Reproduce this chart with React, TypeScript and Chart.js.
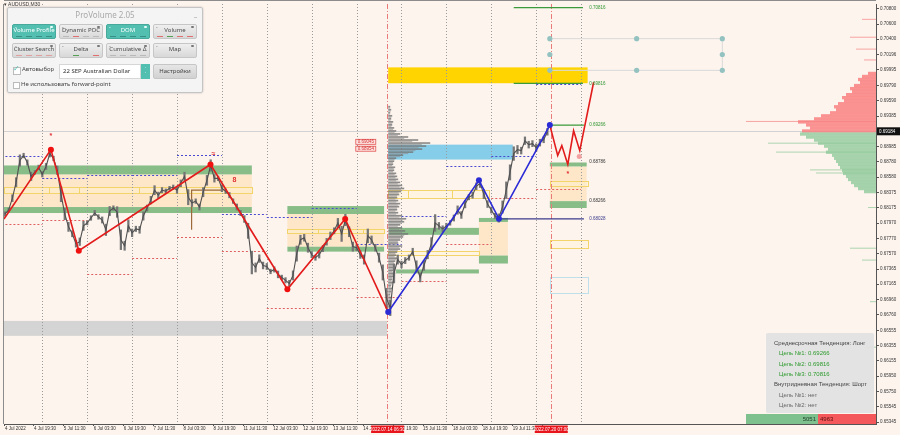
import React, { useEffect, useRef } from 'react';
import { Chart, registerables } from 'chart.js';

Chart.register(...registerables);

// ---------------- data ----------------
// closes sampled every 2 trading hours, trading hours counted from 4 Jul 00:00 (weekend skipped)
const PRICE_START_HOUR = 4;
const PRICE_STEP_HOURS = 2;
const PRICES = [
  0.68092, 0.68144, 0.68301, 0.68511, 0.68798, 0.68864, 0.68772, 0.68589, 0.68641, 0.68707,
  0.68616, 0.68720, 0.68890, 0.68825, 0.68668, 0.68354, 0.68092, 0.67922, 0.67831, 0.67700,
  0.67726, 0.67935, 0.67974, 0.68039, 0.68105, 0.68053, 0.68013, 0.67883, 0.68131, 0.68170,
  0.68118, 0.67752, 0.67673, 0.67935, 0.67843, 0.67896, 0.67883, 0.68066, 0.68170, 0.68275,
  0.68406, 0.68341, 0.68406, 0.68393, 0.68432, 0.68445, 0.68406, 0.68497, 0.68589, 0.68314,
  0.68236, 0.68262, 0.68184, 0.68380, 0.68537, 0.68733, 0.68563, 0.68563, 0.68432, 0.68393,
  0.68341, 0.68262, 0.68184, 0.68105, 0.68026, 0.67870, 0.67451, 0.67386, 0.67503, 0.67412,
  0.67399, 0.67333, 0.67360, 0.67294, 0.67255, 0.67216, 0.67176, 0.67281, 0.67569, 0.67752,
  0.67778, 0.67647, 0.67556, 0.67516, 0.67556, 0.67634, 0.67726, 0.67804, 0.67870, 0.67974,
  0.67830, 0.68013, 0.67857, 0.67661, 0.67647, 0.67556, 0.67490, 0.67804, 0.67752, 0.67647,
  0.67516, 0.67320, 0.66980, 0.66850, 0.67307, 0.67490, 0.67425, 0.67477, 0.67516, 0.67595,
  0.67399, 0.67255, 0.67412, 0.67556, 0.67700, 0.67974, 0.67935, 0.67896, 0.67935, 0.67974,
  0.68039, 0.68144, 0.68079, 0.68223, 0.68314, 0.68341, 0.68458, 0.68497, 0.68354, 0.68223,
  0.68144, 0.68066, 0.68039, 0.68184, 0.68406, 0.68641, 0.68890, 0.68942, 0.68929, 0.69060,
  0.69008, 0.69021, 0.68968, 0.69034, 0.69073, 0.69178,
];
// high-low range of each 2-hour sample, in 1e-5 price units
const PRICE_RANGES = [
  60, 50, 90, 120, 150, 60, 70, 110, 50, 60,
  70, 80, 90, 60, 110, 200, 150, 120, 80, 90,
  100, 120, 50, 60, 70, 60, 80, 150, 120, 60,
  140, 260, 120, 160, 100, 70, 90, 110, 80, 100,
  120, 80, 70, 60, 50, 60, 80, 90, 110, 200,
  90, 60, 80, 120, 130, 150, 100, 60, 90, 60,
  70, 60, 80, 70, 90, 200, 300, 120, 100, 90,
  80, 60, 70, 90, 60, 70, 80, 120, 200, 120,
  90, 120, 80, 70, 90, 80, 90, 100, 80, 120,
  200, 150, 130, 120, 80, 100, 120, 180, 100, 90,
  120, 200, 260, 200, 250, 120, 90, 80, 70, 90,
  150, 120, 130, 110, 160, 220, 90, 80, 70, 60,
  80, 110, 90, 100, 70, 80, 90, 110, 120, 90,
  80, 70, 110, 160, 220, 200, 180, 110, 90, 100,
  90, 80, 100, 90, 80, 90,
];

const RED_ZIGZAG_HOURS = [3.5, 28.6, 43.5, 113.9, 155.0, 185.9, 208.9];
const RED_ZIGZAG_PRICES = [0.68026, 0.68942, 0.67608, 0.68746, 0.67098, 0.68026, 0.66797];
const BLUE_ZIGZAG_HOURS = [208.9, 257.4, 268.1, 295.3];
const BLUE_ZIGZAG_PRICES = [0.66797, 0.68537, 0.68028, 0.69266];
const FORECAST_HOURS = [295.3, 299.5, 301.7, 304.9, 308.0, 311.3, 318.7];
const FORECAST_PRICES = [0.69266, 0.68864, 0.68995, 0.68746, 0.69191, 0.68929, 0.69832];

const TIME_TICK_HOURS = [4, 19.5, 35.5, 51.5, 67.5, 83.5, 99.5, 115.5, 131.5, 147.5, 163.5, 179.5, 195.5, 211.5, 227.5, 243.5, 259.5, 275.5, 291.5];
const TIME_TICK_LABELS = [
  '4 Jul 2022', '4 Jul 19:30', '5 Jul 11:30', '6 Jul 03:30', '6 Jul 19:30', '7 Jul 11:30', '8 Jul 03:30',
  '8 Jul 19:30', '11 Jul 11:30', '12 Jul 03:30', '12 Jul 19:30', '13 Jul 11:30', '14 Jul 03:30',
  '14 Jul 19:30', '15 Jul 11:30', '18 Jul 03:30', '18 Jul 19:30', '19 Jul 11:30', '20 Jul 03:30',
];
const PRICE_TICKS = [
  0.70800, 0.70600, 0.70400, 0.70196, 0.69995, 0.69790, 0.69590, 0.69385, 0.68985, 0.68780,
  0.68580, 0.68375, 0.68175, 0.67970, 0.67770, 0.67570, 0.67365, 0.67165, 0.66960, 0.66760,
  0.66555, 0.66355, 0.66155, 0.65950, 0.65750, 0.65545, 0.65345,
];
const CURRENT_PRICE = 0.69184;
const X_MIN = 3.52;
const X_MAX = 469.65;
const Y_MIN = 0.65319;
const Y_MAX = 0.70865;

const DAY_BREAK_HOURS = [24, 48, 72, 96, 120, 144, 168, 192, 216, 240, 264, 288, 312];
const DAY_HIGH_LINES = [0.68864, 0.68563, 0.68602, 0.68602, 0.68877, 0.68092, 0.68053, 0.68171, 0.67700, 0.68066, 0.68720, 0.68864, 0.69806];
const DAY_LOW_LINES = [0.67961, 0.68013, 0.67294, 0.67516, 0.67791, 0.67608, 0.66849, 0.67111, 0.66993, 0.67203, 0.67700, 0.68301, 0.68419];
const SESSION_HOURS = [208.3, 295.8];
const SESSION_LABELS = ['2022.07.14 06:30', '2022.07.20 07:00'];

// zones: [fromHour, toHour, topPrice, bottomPrice]
const GRAY_ZONES = [[3.5, 208.3, 0.66680, 0.66483]];
const ORANGE_ZONES = [
  [3.5, 136, 0.68615, 0.68184],
  [155, 206.7, 0.68092, 0.67660],
  [257.4, 272.9, 0.67987, 0.67543],
  [295.3, 315, 0.68720, 0.68262],
];
const GREEN_ZONES = [
  [3.5, 136, 0.68733, 0.68615],
  [3.5, 136, 0.68184, 0.68105],
  [155, 206.7, 0.68197, 0.68092],
  [155, 206.7, 0.67660, 0.67595],
  [209.4, 257.4, 0.67909, 0.67817],
  [213.1, 257.4, 0.67360, 0.67307],
  [257.4, 272.9, 0.68040, 0.67987],
  [257.4, 272.9, 0.67543, 0.67438],
  [295.3, 315, 0.68772, 0.68720],
  [295.3, 315, 0.68262, 0.68171],
];
const YELLOW_BOXES = [
  [3.5, 27.5, 0.68445, 0.68367], [27.5, 43.5, 0.68445, 0.68367], [43.5, 75.5, 0.68445, 0.68367],
  [75.5, 101, 0.68445, 0.68367], [101, 136, 0.68445, 0.68367],
  [155, 171.5, 0.67896, 0.67843], [171.5, 195.5, 0.67896, 0.67843], [195.5, 206.7, 0.67896, 0.67843],
  [208.9, 219.5, 0.68406, 0.68301], [219.5, 243, 0.68406, 0.68301], [243, 262.7, 0.68406, 0.68301],
  [208.9, 257.4, 0.67608, 0.67556],
  [295.3, 315.5, 0.68524, 0.68458],
  [295.3, 315.5, 0.67752, 0.67647],
];
const LIGHTBLUE_BOXES = [[295.3, 315.5, 0.67255, 0.67046]];
const SKY_ZONES = [[208.9, 275.5, 0.69008, 0.68811]];
const GOLD_ZONES = [[208.9, 315.5, 0.70028, 0.69819]];

// target / level lines: [fromHour, toHour, price]
const GREEN_LEVELS = [[295.3, 313.5, 0.69266], [276, 313, 0.69816], [276, 313, 0.70816]];
const NAVY_LEVELS = [[267.5, 313.5, 0.68028]];
const LEVEL_LABEL_PRICES = [0.70816, 0.69816, 0.69266, 0.68786, 0.68266, 0.68028];
const LEVEL_LABEL_TEXTS = ['0.70816', '0.69816', '0.69266', '0.68786', '0.68266', '0.68028'];
const LEVEL_LABEL_KINDS = ['green', 'green', 'green', 'dark', 'dark', 'navy'];
const LEVEL_LABEL_HOUR = 316.4;

const BROWN_LEVEL = [103.8, 120.9, 0.68406, 0.67883];

const RED_TAG_HOUR = 207.6;
const RED_TAG_PRICES = [0.69045, 0.68954];

const MARK_HOURS = [28.6, 115.5, 126.7, 304.9];
const MARK_PRICES = [0.69125, 0.68890, 0.68537, 0.68615];
const MARK_TEXTS = ['*', '≈', '8', '*'];
const PINK_DOT = [311.0, 0.68851];

// drawn rectangle object with handles (top right)
const HANDLE_HOURS = [295.3, 341.7, 387.5];
const HANDLE_PRICES = [0.70407, 0.70198, 0.69989];

// volume profile of the session started 14 Jul (price levels from top, step)
const MID_PROFILE_HOUR = 208.9;
const MID_PROFILE_TOP = 0.6950;
const MID_PROFILE_STEP = 0.0004;
const MID_PROFILE_VOLUMES = [
  2, 3, 2, 4, 3, 5, 4, 6, 8,
  12, 20, 30, 42, 38, 34, 25, 15, 8,
  6, 5, 7, 6, 8, 9, 10, 12,
  14, 16, 13, 11, 9, 10, 12, 11, 9,
  10, 14, 18, 16, 12, 14, 17, 20, 15,
  12, 10, 14, 12, 9, 8, 10, 7, 6,
  6, 5, 7, 5, 4, 5, 3, 4, 3, 2, 3, 2, 1, 1,
];

// market depth profile at the right edge
const DEPTH_TOP = 0.6995;
const DEPTH_STEP = 0.0004;
const DEPTH_ASK = [8, 14, 18, 16, 22, 26, 24, 30, 34, 32, 38, 42, 40, 46, 55, 62, 78, 70, 66, 74];
const DEPTH_BID_TOP = 0.6915;
const DEPTH_BID = [76, 70, 62, 58, 52, 48, 50, 44, 42, 40, 38, 36, 34, 33, 30, 28, 25, 22, 18, 12];
const DEPTH_THIN_ASK_PRICES = [0.70669, 0.70433, 0.70276, 0.70133, 0.69321];
const DEPTH_THIN_ASK = [14, 26, 20, 12, 130];
const DEPTH_THIN_BID_PRICES = [0.69034, 0.68916, 0.68681, 0.68640, 0.68184, 0.67647, 0.67490, 0.66941, 0.66340];
const DEPTH_THIN_BID = [108, 100, 66, 60, 8, 26, 14, 6, 10];

const BUY_VOLUME = 5051;
const SELL_VOLUME = 4963;

// ---------------- styles ----------------
const BG = '#fdf4ee';
const TEAL = '#52bfb1';
const FONT = '"Liberation Sans", Arial, sans-serif';

type Zone = number[];

const overlayPlugin = {
  id: 'overlayPlugin',
  beforeDraw(chart: any) {
    const { ctx, width, height } = chart;
    ctx.save();
    ctx.fillStyle = BG;
    ctx.fillRect(0, 0, width, height);
    ctx.restore();
  },
  beforeDatasetsDraw(chart: any) {
    const { ctx, chartArea: a, scales } = chart;
    const X = (h: number) => scales.x.getPixelForValue(h);
    const Y = (p: number) => scales.y.getPixelForValue(p);
    ctx.save();
    ctx.beginPath();
    ctx.rect(a.left, a.top, a.right - a.left, a.bottom - a.top);
    ctx.clip();

    const fillZones = (zones: Zone[], color: string) => {
      ctx.fillStyle = color;
      zones.forEach(([h1, h2, p1, p2]) => {
        ctx.fillRect(X(h1), Y(p1), X(h2) - X(h1), Y(p2) - Y(p1));
      });
    };
    const strokeZones = (zones: Zone[], color: string, fill?: string) => {
      zones.forEach(([h1, h2, p1, p2]) => {
        const x1 = Math.round(X(h1)) + 0.5, x2 = Math.round(X(h2)) + 0.5;
        const y1 = Math.round(Y(p1)) + 0.5, y2 = Math.round(Y(p2)) + 0.5;
        if (fill) { ctx.fillStyle = fill; ctx.fillRect(x1, y1, x2 - x1, y2 - y1); }
        ctx.strokeStyle = color;
        ctx.lineWidth = 1;
        ctx.strokeRect(x1, y1, x2 - x1, y2 - y1);
      });
    };

    fillZones(GRAY_ZONES, '#d4d4d4');
    fillZones(ORANGE_ZONES, 'rgba(253,226,188,0.75)');
    fillZones(SKY_ZONES, '#86cdea');
    fillZones(GOLD_ZONES, '#ffd400');
    fillZones(GREEN_ZONES, '#88bd88');
    strokeZones(YELLOW_BOXES, '#f3d46a', 'rgba(255,244,200,0.35)');
    strokeZones(LIGHTBLUE_BOXES, '#bfe0ea');

    // current price line
    ctx.strokeStyle = '#d2d2d2';
    ctx.lineWidth = 1;
    ctx.beginPath();
    const cy = Math.round(Y(CURRENT_PRICE)) + 0.5;
    ctx.moveTo(a.left, cy);
    ctx.lineTo(a.right, cy);
    ctx.stroke();

    // day separators
    ctx.strokeStyle = '#9a9a9a';
    ctx.setLineDash([1, 2]);
    DAY_BREAK_HOURS.forEach((h) => {
      const x = Math.round(X(h)) + 0.5;
      ctx.beginPath();
      ctx.moveTo(x, a.top);
      ctx.lineTo(x, a.bottom);
      ctx.stroke();
    });
    // session lines
    ctx.strokeStyle = '#e87a7a';
    ctx.setLineDash([5, 2, 1, 2]);
    SESSION_HOURS.forEach((h) => {
      const x = Math.round(X(h)) + 0.5;
      ctx.beginPath();
      ctx.moveTo(x, a.top);
      ctx.lineTo(x, a.bottom);
      ctx.stroke();
    });

    // previous-day high / low dotted lines
    ctx.setLineDash([2, 2]);
    DAY_HIGH_LINES.forEach((p, k) => {
      const y = Math.round(Y(p)) + 0.5;
      ctx.strokeStyle = '#4a4ad0';
      ctx.beginPath();
      ctx.moveTo(X(k * 24), y);
      ctx.lineTo(X(k * 24 + 24), y);
      ctx.stroke();
    });
    DAY_LOW_LINES.forEach((p, k) => {
      const y = Math.round(Y(p)) + 0.5;
      ctx.strokeStyle = '#e06060';
      ctx.beginPath();
      ctx.moveTo(X(k * 24), y);
      ctx.lineTo(X(k * 24 + 24), y);
      ctx.stroke();
    });
    ctx.setLineDash([]);

    // brown level marker
    ctx.strokeStyle = '#9c6a3a';
    ctx.lineWidth = 1.2;
    ctx.beginPath();
    ctx.moveTo(X(BROWN_LEVEL[1]), Y(BROWN_LEVEL[2]));
    ctx.lineTo(X(BROWN_LEVEL[0]), Y(BROWN_LEVEL[2]));
    ctx.lineTo(X(BROWN_LEVEL[0]), Y(BROWN_LEVEL[3]));
    ctx.stroke();

    // session volume profile (grey histogram)
    const x0 = X(MID_PROFILE_HOUR);
    const stepPx = Math.abs(Y(MID_PROFILE_TOP) - Y(MID_PROFILE_TOP - MID_PROFILE_STEP));
    MID_PROFILE_VOLUMES.forEach((v, i) => {
      const y = Y(MID_PROFILE_TOP - i * MID_PROFILE_STEP);
      ctx.fillStyle = 'rgba(115,115,115,0.8)';
      ctx.fillRect(x0, y - stepPx / 2, v, stepPx * 0.55);
      ctx.fillStyle = 'rgba(140,140,140,0.6)';
      ctx.fillRect(x0, y, Math.max(1, v * 0.8), stepPx * 0.45);
    });

    // depth profile on the right
    const depthStep = Math.abs(Y(DEPTH_TOP) - Y(DEPTH_TOP - DEPTH_STEP));
    ctx.fillStyle = 'rgba(248,128,128,0.85)';
    DEPTH_ASK.forEach((v, i) => {
      const y = Y(DEPTH_TOP - i * DEPTH_STEP);
      ctx.fillRect(a.right - v, y - depthStep / 2, v, depthStep + 0.3);
    });
    ctx.fillStyle = 'rgba(150,205,160,0.85)';
    DEPTH_BID.forEach((v, i) => {
      const y = Y(DEPTH_BID_TOP - i * DEPTH_STEP);
      ctx.fillRect(a.right - v, y - depthStep / 2, v, depthStep + 0.3);
    });
    ctx.fillStyle = 'rgba(245,130,130,0.7)';
    DEPTH_THIN_ASK_PRICES.forEach((p, i) => {
      ctx.fillRect(a.right - DEPTH_THIN_ASK[i], Y(p), DEPTH_THIN_ASK[i], 1);
    });
    ctx.fillStyle = 'rgba(140,200,150,0.7)';
    DEPTH_THIN_BID_PRICES.forEach((p, i) => {
      ctx.fillRect(a.right - DEPTH_THIN_BID[i], Y(p), DEPTH_THIN_BID[i], 1);
    });

    // level lines
    ctx.lineWidth = 1.3;
    ctx.strokeStyle = '#3b9a3b';
    GREEN_LEVELS.forEach(([h1, h2, p]) => {
      ctx.beginPath();
      ctx.moveTo(X(h1), Y(p));
      ctx.lineTo(X(h2), Y(p));
      ctx.stroke();
    });
    ctx.strokeStyle = '#3a3a8c';
    NAVY_LEVELS.forEach(([h1, h2, p]) => {
      ctx.beginPath();
      ctx.moveTo(X(h1), Y(p));
      ctx.lineTo(X(h2), Y(p));
      ctx.stroke();
    });

    // rectangle object with handles
    const hx = HANDLE_HOURS.map(X);
    const hy = HANDLE_PRICES.map(Y);
    ctx.strokeStyle = '#d9d9d9';
    ctx.lineWidth = 1;
    ctx.beginPath();
    ctx.moveTo(hx[0], hy[0]); ctx.lineTo(hx[2], hy[0]);
    ctx.moveTo(hx[0], hy[2]); ctx.lineTo(hx[2], hy[2]);
    ctx.moveTo(hx[2], hy[0]); ctx.lineTo(hx[2], hy[2]);
    ctx.stroke();
    ctx.fillStyle = '#93c2c0';
    [[0, 0], [1, 0], [2, 0], [0, 1], [2, 1], [0, 2], [1, 2], [2, 2]].forEach(([i, j]) => {
      ctx.beginPath();
      ctx.arc(hx[i], hy[j], 2.6, 0, Math.PI * 2);
      ctx.fill();
    });
    ctx.restore();
  },
  afterDatasetsDraw(chart: any) {
    const { ctx, scales } = chart;
    const X = (h: number) => scales.x.getPixelForValue(h);
    const Y = (p: number) => scales.y.getPixelForValue(p);
    ctx.save();
    ctx.font = `4.5px ${FONT}`;
    ctx.textBaseline = 'middle';
    ctx.textAlign = 'left';
    LEVEL_LABEL_PRICES.forEach((p, i) => {
      const k = LEVEL_LABEL_KINDS[i];
      ctx.fillStyle = k === 'green' ? '#2f962f' : k === 'navy' ? '#3a3a8c' : '#333';
      ctx.fillText(LEVEL_LABEL_TEXTS[i], X(LEVEL_LABEL_HOUR), Y(p));
    });
    RED_TAG_PRICES.forEach((p) => {
      const x2 = X(RED_TAG_HOUR) - 10;
      const y = Y(p);
      ctx.fillStyle = '#fde3e0';
      ctx.fillRect(x2 - 20, y - 2.5, 20, 5);
      ctx.strokeStyle = '#e25555';
      ctx.lineWidth = 0.8;
      ctx.strokeRect(x2 - 20, y - 2.5, 20, 5);
      ctx.fillStyle = '#d63030';
      ctx.font = `4.5px ${FONT}`;
      ctx.textAlign = 'center';
      ctx.fillText(p.toFixed(5), x2 - 10, y + 0.3);
    });
    ctx.fillStyle = '#e03030';
    ctx.font = `bold 7px ${FONT}`;
    ctx.textAlign = 'center';
    MARK_HOURS.forEach((h, i) => ctx.fillText(MARK_TEXTS[i], X(h), Y(MARK_PRICES[i])));
    ctx.fillStyle = '#f2a0a0';
    ctx.beginPath();
    ctx.arc(X(PINK_DOT[0]), Y(PINK_DOT[1]), 2.5, 0, Math.PI * 2);
    ctx.fill();
    ctx.restore();
  },
  afterDraw(chart: any) {
    const { ctx, chartArea: a, scales, width } = chart;
    const X = (h: number) => scales.x.getPixelForValue(h);
    const Y = (p: number) => scales.y.getPixelForValue(p);
    ctx.save();
    ctx.strokeStyle = '#8c8c8c';
    ctx.lineWidth = 1;
    ctx.beginPath();
    ctx.moveTo(a.left - 0.5, a.top);
    ctx.lineTo(a.left - 0.5, a.bottom);
    ctx.moveTo(a.left, 0.5);
    ctx.lineTo(a.right, 0.5);
    ctx.stroke();
    const cy = Y(CURRENT_PRICE);
    ctx.fillStyle = '#111';
    ctx.fillRect(a.right + 1, cy - 4, width - a.right - 1, 8);
    ctx.fillStyle = '#fff';
    ctx.font = `4.5px ${FONT}`;
    ctx.textAlign = 'left';
    ctx.textBaseline = 'middle';
    ctx.fillText(CURRENT_PRICE.toFixed(5), a.right + 3, cy + 0.3);
    SESSION_HOURS.forEach((h, i) => {
      const x = X(h);
      ctx.fillStyle = '#e8141c';
      ctx.fillRect(x - 16, a.bottom + 1.5, 33, 7.5);
      ctx.fillStyle = '#fff';
      ctx.textAlign = 'center';
      ctx.fillText(SESSION_LABELS[i], x + 0.5, a.bottom + 5.4);
    });
    ctx.restore();
  },
};

function PanelButton({ left, top, label, active, marks }: any) {
  return (
    <div
      style={{
        position: 'absolute', left, top, width: 44, height: 15, boxSizing: 'border-box',
        background: active ? TEAL : 'linear-gradient(#efefef, #d8d8d8)',
        border: `1px solid ${active ? '#46a99c' : '#c6c6c6'}`, borderRadius: 2,
        color: active ? '#fff' : '#4a4a4a', fontSize: 6, lineHeight: '13px', textAlign: 'center',
        whiteSpace: 'nowrap', overflow: 'hidden',
      }}
    >
      <div style={{ position: 'absolute', left: 2, top: 0, fontSize: 3, lineHeight: '4px', color: active ? '#dff' : '#888' }}>≡</div>
      <div style={{ position: 'absolute', right: 2, top: 1, width: 3, height: 2, borderRadius: 1, background: active ? '#e8fffb' : '#777' }} />
      <div style={{ position: 'relative', top: -1 }}>{label}</div>
      <div style={{ position: 'absolute', left: 3, right: 3, bottom: 1, height: 1, display: 'flex', justifyContent: 'space-between' }}>
        {marks.map((c: string, i: number) => (
          <div key={i} style={{ width: 6, height: 1, background: c }} />
        ))}
      </div>
    </div>
  );
}

function ProVolumePanel() {
  const g = '#b9b9b9';
  return (
    <div
      style={{
        position: 'absolute', left: 7, top: 7, width: 196, height: 86, boxSizing: 'border-box',
        background: 'rgba(244,244,244,0.97)', border: '1px solid #c4c4c4', borderRadius: 2,
        boxShadow: '0 0 2px rgba(0,0,0,0.25)', fontFamily: '"Noto Sans", "Open Sans", sans-serif',
      }}
    >
      <div style={{ position: 'absolute', left: 0, right: 0, top: 2, textAlign: 'center', fontSize: 8, color: '#a9a9a9', lineHeight: '10px' }}>
        ProVolume 2.05
      </div>
      <div style={{ position: 'absolute', right: 5, top: 3, fontSize: 7, color: '#999', lineHeight: '8px' }}>_</div>
      <PanelButton left={4} top={16} label="Volume Profile" active marks={['#3a8f84', '#3a8f84', '#3a8f84', '#3a8f84']} />
      <PanelButton left={51} top={16} label="Dynamic POC" marks={[g, '#e07070', g, g]} />
      <PanelButton left={98} top={16} label="DOM" active marks={['#3a8f84', '#3a8f84', '#3a8f84', '#3a8f84']} />
      <PanelButton left={145} top={16} label="Volume" marks={['#e07070', '#55a055', '#e07070', '#e07070']} />
      <PanelButton left={4} top={35} label="Cluster Search" marks={['#e0a0a0', '#e0a0a0', '#e0a0a0', '#e0a0a0']} />
      <PanelButton left={51} top={35} label="Delta" marks={['transparent', '#55a055', 'transparent', '#e07070']} />
      <PanelButton left={98} top={35} label="Cumulative Δ" marks={[g, g, g, g]} />
      <PanelButton left={145} top={35} label="Map" marks={['transparent', 'transparent', 'transparent', 'transparent']} />
      <div style={{ position: 'absolute', left: 5, top: 59, width: 6, height: 6, background: '#fff', border: '1px solid #bbb' }} />
      <div style={{ position: 'absolute', left: 5, top: 55, fontSize: 8, color: TEAL, lineHeight: '9px' }}>✓</div>
      <div style={{ position: 'absolute', left: 14, top: 57, fontSize: 6, color: '#444', lineHeight: '9px' }}>Автовыбор</div>
      <div
        style={{
          position: 'absolute', left: 51, top: 56, width: 82, height: 15, boxSizing: 'border-box', background: '#fff',
          border: '1px solid #d6d6d6', fontSize: 6, color: '#333', lineHeight: '13px', paddingLeft: 3, whiteSpace: 'nowrap',
        }}
      >
        22 SEP Australian Dollar
      </div>
      <div
        style={{
          position: 'absolute', left: 133, top: 56, width: 9, height: 15, background: TEAL, color: '#fff',
          fontSize: 4, lineHeight: '5px', textAlign: 'center', paddingTop: 2, boxSizing: 'border-box',
        }}
      >
        ˄<br />˅
      </div>
      <div
        style={{
          position: 'absolute', left: 145, top: 56, width: 44, height: 15, boxSizing: 'border-box',
          background: 'linear-gradient(#e6e6e6, #d2d2d2)', border: '1px solid #c6c6c6', borderRadius: 2,
          fontSize: 6, color: '#444', lineHeight: '13px', textAlign: 'center',
        }}
      >
        Настройки
      </div>
      <div style={{ position: 'absolute', left: 5, top: 74, width: 5, height: 5, background: '#fff', border: '1px solid #bbb' }} />
      <div style={{ position: 'absolute', left: 13, top: 72, fontSize: 6, color: '#444', lineHeight: '9px', whiteSpace: 'nowrap' }}>
        Не использовать forward-point
      </div>
    </div>
  );
}

function InfoBox() {
  const line = (text: string, color: string, indent: number, top: number) => (
    <div style={{ position: 'absolute', left: indent, top, fontSize: 6, color, lineHeight: '8px', whiteSpace: 'nowrap' }}>{text}</div>
  );
  return (
    <div
      style={{
        position: 'absolute', left: 766, top: 333, width: 108, height: 80, background: 'rgba(226,226,226,0.95)',
        borderRadius: 2, fontFamily: '"Liberation Sans", Arial, sans-serif',
      }}
    >
      {line('Среднесрочная Тенденция: Лонг', '#444', 8, 6)}
      {line('Цель №1: 0.69266', '#2d9a2d', 13, 16)}
      {line('Цель №2: 0.69816', '#2d9a2d', 13, 27)}
      {line('Цель №3: 0.70816', '#2d9a2d', 13, 37)}
      {line('Внутридневная Тенденция: Шорт', '#444', 8, 47)}
      {line('Цель №1: нет', '#666', 13, 58)}
      {line('Цель №2: нет', '#666', 13, 68)}
    </div>
  );
}

function VolumeBar() {
  return (
    <div style={{ position: 'absolute', left: 746, top: 414, width: 130, height: 10, display: 'flex', fontFamily: '"Liberation Sans", Arial, sans-serif', fontSize: 6, lineHeight: '10px' }}>
      <div style={{ width: 72, background: '#7fc08f', color: '#1d3d25', textAlign: 'right', paddingRight: 2, boxSizing: 'border-box' }}>{BUY_VOLUME}</div>
      <div style={{ flex: 1, background: '#f4585a', color: '#5a1010', paddingLeft: 2, boxSizing: 'border-box' }}>{SELL_VOLUME}</div>
    </div>
  );
}

export default function App() {
  const ref = useRef<HTMLCanvasElement | null>(null);
  useEffect(() => {
    document.body.style.margin = '0';
    const canvas = ref.current;
    if (!canvas) return;
    Chart.defaults.font.family = FONT;
    const hourOf = (i: number) => PRICE_START_HOUR + i * PRICE_STEP_HOURS;
    const pricePoints = PRICES.map((p, i) => ({ x: hourOf(i), y: p }));
    const rangeBars = PRICES.map((p, i) => {
      const half = PRICE_RANGES[i] / 200000;
      return { x: hourOf(i), y: [p - half, p + half] };
    });
    const zig = (hs: number[], ps: number[]) => hs.map((h, i) => ({ x: h, y: ps[i] }));
    const chart = new Chart(canvas, {
      type: 'line',
      data: {
        datasets: [
          {
            data: zig(BLUE_ZIGZAG_HOURS, BLUE_ZIGZAG_PRICES), borderColor: '#2b2bd6', backgroundColor: '#2b2bd6',
            borderWidth: 1.6, pointRadius: 3, pointBorderWidth: 0, order: 1,
          },
          {
            data: zig(RED_ZIGZAG_HOURS, RED_ZIGZAG_PRICES), borderColor: '#e21b1b', backgroundColor: '#f01010',
            borderWidth: 1.6, pointRadius: [0, 3, 3, 3, 3, 3, 0], pointBorderWidth: 0, order: 2,
          },
          {
            data: zig(FORECAST_HOURS, FORECAST_PRICES), borderColor: '#e21b1b', borderWidth: 1.6, pointRadius: 0, order: 2,
          },
          {
            data: pricePoints, borderColor: '#505050', borderWidth: 1.1, pointRadius: 0, order: 3,
          },
          {
            type: 'bar', data: rangeBars, backgroundColor: '#767676', barThickness: 1.6, order: 4,
          },
        ],
      },
      options: {
        animation: false,
        responsive: false,
        maintainAspectRatio: false,
        layout: { padding: { left: 2, top: 0, right: 0, bottom: 0 } },
        plugins: { legend: { display: false }, tooltip: { enabled: false } },
        elements: { line: { tension: 0 } },
        scales: {
          x: {
            type: 'linear', min: X_MIN, max: X_MAX, position: 'bottom', offset: false,
            afterFit: (s: any) => { s.height = 11; s.paddingLeft = 0; s.paddingRight = 0; },
            afterBuildTicks: (s: any) => { s.ticks = TIME_TICK_HOURS.map((v) => ({ value: v })); },
            ticks: {
              autoSkip: false, maxRotation: 0, minRotation: 0, align: 'start', padding: 0,
              color: '#333', font: { size: 4.5, family: FONT },
              callback: (_v: any, i: number) => TIME_TICK_LABELS[i],
            },
            grid: { drawOnChartArea: false, tickLength: 2, color: '#555', offset: false },
            border: { color: '#555' },
          },
          y: {
            type: 'linear', min: Y_MIN, max: Y_MAX, position: 'right',
            afterFit: (s: any) => { s.width = 24; s.paddingTop = 0; s.paddingBottom = 0; },
            afterBuildTicks: (s: any) => { s.ticks = PRICE_TICKS.map((v) => ({ value: v })); },
            ticks: {
              autoSkip: false, padding: 1, color: '#333', font: { size: 4.5, family: FONT },
              callback: (v: any) => Number(v).toFixed(5),
            },
            grid: { drawOnChartArea: false, tickLength: 3, color: '#555' },
            border: { color: '#555' },
          },
        },
      } as any,
      plugins: [overlayPlugin],
    });
    return () => chart.destroy();
  }, []);

  return (
    <div style={{ position: 'relative', width: 900, height: 435, overflow: 'hidden', background: BG }}>
      <canvas ref={ref} width={900} height={435} style={{ display: 'block', width: 900, height: 435 }} />
      <div style={{ position: 'absolute', left: 4, top: 1, fontSize: 5, color: '#333', fontFamily: FONT, lineHeight: '6px' }}>▾ AUDUSD,M30</div>
      <ProVolumePanel />
      <InfoBox />
      <VolumeBar />
    </div>
  );
}
